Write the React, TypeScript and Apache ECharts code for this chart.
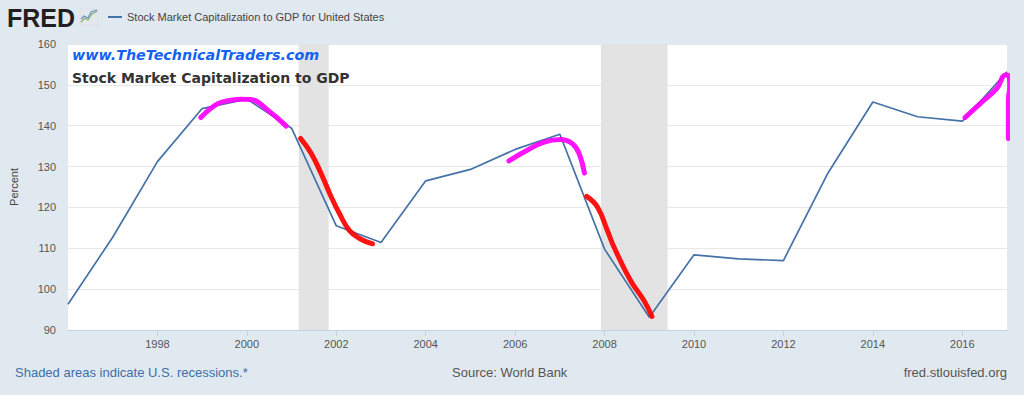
import React, { useEffect, useRef } from "react";
import * as echarts from "echarts";

// ---- data ----
const years = [1996, 1997, 1998, 1999, 2000, 2001, 2002, 2003, 2004, 2005, 2006, 2007, 2008, 2009, 2010, 2011, 2012, 2013, 2014, 2015, 2016, 2017];
const capToGdp = [96.3, 112.7, 131.2, 144.2, 146.5, 139.4, 115.5, 111.4, 126.5, 129.3, 134.2, 137.9, 109.8, 93.1, 108.4, 107.4, 107.0, 128.5, 145.8, 142.2, 141.1, 153.2];
const recessionStarts = [2001.16, 2007.92];
const recessionEnds = [2001.83, 2009.41];
const yTicks = { min: 90, max: 160, step: 10 };
const xTicks = { min: 1996, max: 2017, step: 2 };

// hand-drawn highlight strokes, [decimal year, percent]
const magentaTop2000 = [[1998.97, 142.0], [1999.35, 145.4], [1999.65, 146.25], [1999.87, 146.5], [2000.09, 146.4], [2000.47, 143.8], [2000.88, 139.9]];
const redDrop2001 = [[2001.2, 136.9], [2001.44, 133.2], [2001.66, 128.3], [2001.89, 122.5], [2002.07, 118.5], [2002.29, 114.4], [2002.52, 112.4], [2002.81, 111.1]];
const magentaTop2007 = [[2005.86, 131.4], [2006.27, 134.0], [2006.65, 136.0], [2007.02, 136.6], [2007.28, 135.6], [2007.43, 133.2], [2007.55, 128.4]];
const redDrop2008 = [[2007.6, 122.7], [2007.84, 120.1], [2008.06, 114.4], [2008.21, 110.3], [2008.58, 102.1], [2008.88, 97.2], [2009.06, 93.3]];
const magentaTop2017 = [[2016.06, 142.0], [2016.39, 145.3], [2016.77, 149.1], [2016.97, 152.4], [2017.05, 152.0], [2017.06, 149.5], [2017.03, 146.3], [2017.03, 136.9]];

const FONT = "'Liberation Sans', Arial, sans-serif";

export default function App() {
  const ref = useRef<HTMLDivElement>(null);

  useEffect(() => {
    if (!ref.current) return;
    const chart = echarts.init(ref.current, undefined, { renderer: "svg" });

    const stroke = (data: number[][], color: string) => ({
      type: "line",
      data,
      smooth: 0.45,
      symbol: "none",
      clip: false,
      silent: true,
      z: 5,
      lineStyle: { color, width: 5, cap: "round", join: "round", opacity: 0.92 },
    });

    chart.setOption({
      animation: false,
      backgroundColor: "#e1e9f0",
      grid: { left: 66, right: 17, top: 44, bottom: 65, show: true, backgroundColor: "#ffffff", borderWidth: 0 },
      xAxis: {
        type: "value",
        min: xTicks.min,
        max: xTicks.max,
        interval: xTicks.step,
        axisLine: { show: true, lineStyle: { color: "#c5d4e3", width: 1 } },
        axisTick: { show: true, length: 6, lineStyle: { color: "#c5d4e3" } },
        axisLabel: { showMinLabel: false, showMaxLabel: false, color: "#555", fontSize: 11, fontFamily: FONT, margin: 8, formatter: (v: number) => String(v) },
        splitLine: { show: false },
      },
      yAxis: {
        type: "value",
        min: yTicks.min,
        max: yTicks.max,
        interval: yTicks.step,
        name: "Percent",
        nameLocation: "middle",
        nameRotate: 90,
        nameGap: 49,
        nameTextStyle: { color: "#444", fontSize: 11, fontFamily: FONT },
        axisLine: { show: false },
        axisTick: { show: false },
        axisLabel: { color: "#555", fontSize: 11, fontFamily: FONT, margin: 12 },
        splitLine: { lineStyle: { color: "#e8e8e8", width: 1 } },
      },
      graphic: [
        { type: "text", left: 7, top: 5, style: { text: "FRED", font: "bold 25px 'Liberation Sans', Arial, sans-serif", fill: "#231f20" } },
        { type: "rect", shape: { x: 80, y: 9, width: 18, height: 16 }, style: { fill: "#e4e8ec", stroke: "#d0d6dc", lineWidth: 0.5 } },
        { type: "polyline", shape: { points: [[81, 22], [85, 18], [88, 20], [92, 14], [97, 11]] }, style: { stroke: "#7fb06a", lineWidth: 1.2, fill: null } },
        { type: "polyline", shape: { points: [[81, 19], [84, 16], [88, 18], [91, 12], [97, 10]] }, style: { stroke: "#6b93c6", lineWidth: 1.2, fill: null } },
        { type: "line", shape: { x1: 108, y1: 17, x2: 122, y2: 17 }, style: { stroke: "#4572a7", lineWidth: 2 } },
        { type: "text", left: 127, top: 11, style: { text: "Stock Market Capitalization to GDP for United States", font: "11px 'Liberation Sans', Arial, sans-serif", fill: "#444" } },
        { type: "text", left: 72, top: 48, z: 10, style: { text: "www.TheTechnicalTraders.com", font: "italic bold 14.3px 'DejaVu Sans', Verdana, sans-serif", fill: "#1562f2" } },
        { type: "text", left: 72, top: 71, z: 10, style: { text: "Stock Market Capitalization to GDP", font: "bold 14px 'DejaVu Sans', Verdana, sans-serif", fill: "#333" } },
        { type: "text", left: 15, top: 366, style: { text: "Shaded areas indicate U.S. recessions.*", font: "13px 'Liberation Sans', Arial, sans-serif", fill: "#3d6ea8" } },
        { type: "text", left: 452, top: 366, style: { text: "Source: World Bank", font: "13px 'Liberation Sans', Arial, sans-serif", fill: "#555" } },
        { type: "text", right: 17, top: 366, style: { text: "fred.stlouisfed.org", font: "13px 'Liberation Sans', Arial, sans-serif", fill: "#555" } },
      ],
      series: [
        {
          type: "line",
          data: years.map((y, i) => [y, capToGdp[i]]),
          symbol: "none",
          z: 3,
          lineStyle: { color: "#4572a7", width: 1.7 },
          markArea: {
            silent: true,
            itemStyle: { color: "#e3e3e3" },
            data: recessionStarts.map((s, i) => [{ xAxis: s }, { xAxis: recessionEnds[i] }]),
          },
        },
        stroke(magentaTop2000, "#ff00ff"),
        stroke(redDrop2001, "#ff0000"),
        stroke(magentaTop2007, "#ff00ff"),
        stroke(redDrop2008, "#ff0000"),
        stroke(magentaTop2017, "#ff00ff"),
      ],
    });

    return () => chart.dispose();
  }, []);

  return <div ref={ref} style={{ position: "fixed", left: 0, top: 0, width: 1024, height: 395 }} />;
}
